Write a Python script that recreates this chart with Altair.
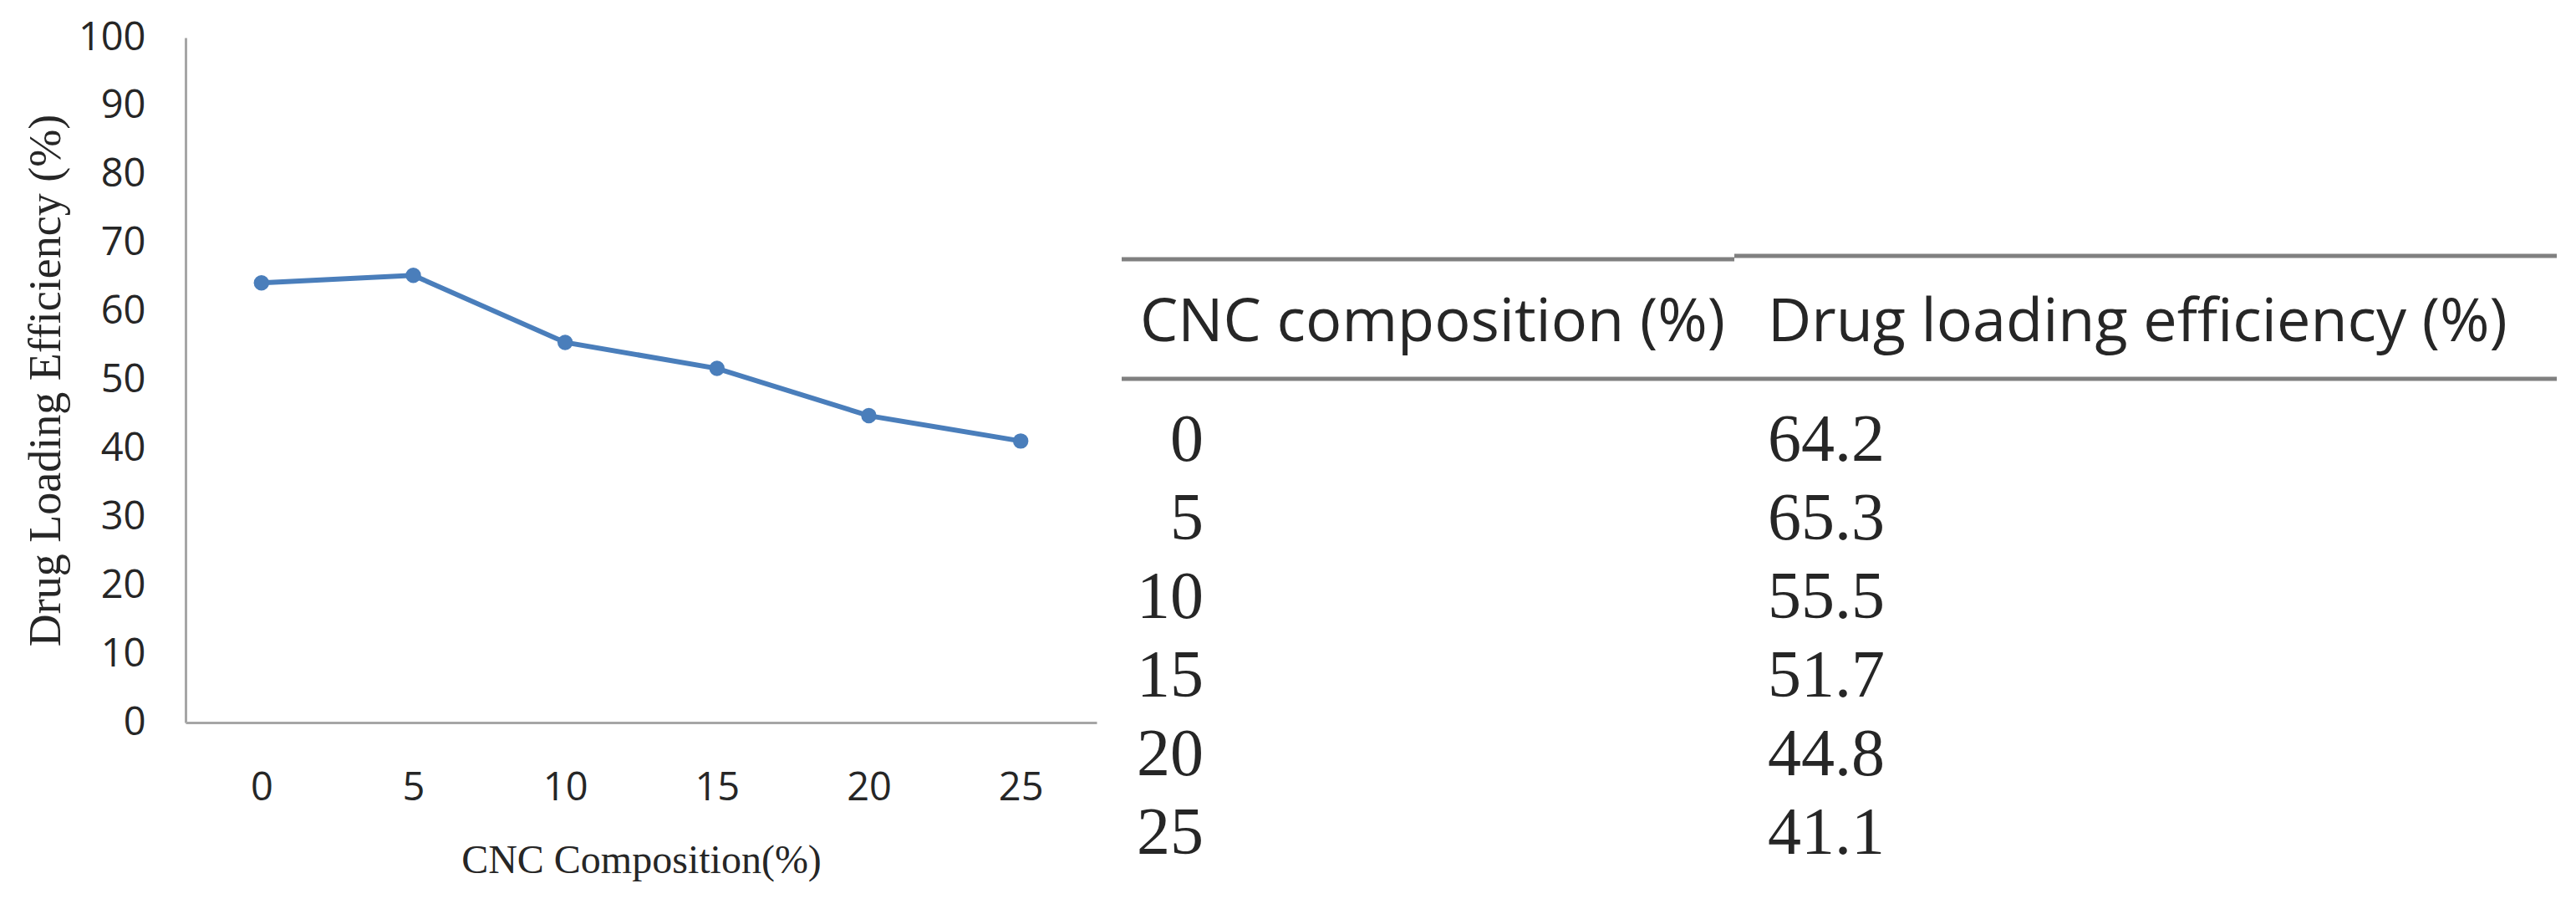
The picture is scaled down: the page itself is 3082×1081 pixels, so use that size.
import altair as alt
import pandas as pd

# ---------------- data ----------------
composition = ["0", "5", "10", "15", "20", "25"]
efficiency = [64.2, 65.3, 55.5, 51.7, 44.8, 41.1]
efficiency_text = ["64.2", "65.3", "55.5", "51.7", "44.8", "41.1"]
y_ticks = [0, 10, 20, 30, 40, 50, 60, 70, 80, 90, 100]
table_header = ["CNC composition (%)", "Drug loading efficiency (%)"]
x_title = "CNC Composition(%)"
y_title = "Drug Loading Efficiency (%)"

# ---------------- styles ----------------
BLUE = "#4a7ebb"
AXIS_GRAY = "#a6a6a6"
TEXT = "#262626"
SANS = "Open Sans, sans-serif"
SERIF = "Liberation Serif, Times New Roman, serif"

# ---------------- line chart ----------------
df = pd.DataFrame({"comp": composition, "eff": efficiency})

base = alt.Chart(df).encode(
    x=alt.X(
        "comp:N",
        sort=composition,
        axis=alt.Axis(
            title=x_title,
            labelAngle=0,
            ticks=False,
            domainColor=AXIS_GRAY,
            domainWidth=3,
            labelFont=SANS,
            labelFontSize=47,
            labelColor=TEXT,
            labelPadding=55,
            titleFont=SERIF,
            titleFontSize=48,
            titleFontWeight="normal",
            titleColor=TEXT,
            titlePadding=40,
        ),
    ),
    y=alt.Y(
        "eff:Q",
        scale=alt.Scale(domain=[0, 100]),
        axis=alt.Axis(
            title=y_title,
            values=y_ticks,
            grid=False,
            ticks=False,
            domainColor=AXIS_GRAY,
            domainWidth=3,
            labelFont=SANS,
            labelFontSize=47,
            labelColor=TEXT,
            labelPadding=48,
            titleFont=SERIF,
            titleFontSize=54,
            titleFontWeight="normal",
            titleColor=TEXT,
            titlePadding=11,
        ),
    ),
)

line = base.mark_line(color=BLUE, strokeWidth=6)
points = base.mark_point(filled=True, size=340, shape="circle", color=BLUE, opacity=1)
line_chart = (line + points).properties(width=1090, height=819)

# ---------------- table ----------------
TABLE_W = 1717
ROW_PX = 94.0
TOP_PX = 44.0          # table plot top, aligned with line-chart plot top
ROW1_PX = 526.0        # centre of first data row
y0 = 1 - (ROW1_PX - TOP_PX) / ROW_PX
TABLE_H = 1026
y1 = y0 + TABLE_H / ROW_PX

def frac(px):
    return (px - 1340.0) / TABLE_W

def rowpos(px):
    return 1 + (px - ROW1_PX) / ROW_PX

split = frac(2073)
rules_df = pd.DataFrame(
    {
        "x": [0.0, split, 0.0],
        "x2": [split, 1.0, 1.0],
        "y": [rowpos(309), rowpos(305), rowpos(452)],
    }
)
xs = alt.Scale(domain=[0, 1])
ys = alt.Scale(domain=[y0, y1], reverse=True)

rules = alt.Chart(rules_df).mark_rule(color="#808080", strokeWidth=5).encode(
    x=alt.X("x:Q", scale=xs, axis=None),
    x2="x2:Q",
    y=alt.Y("y:Q", scale=ys, axis=None),
)

hdr_df = pd.DataFrame(
    {"label": table_header, "x": [frac(1362), frac(2113)], "y": [rowpos(385)] * 2}
)
header = alt.Chart(hdr_df).mark_text(
    align="left", baseline="middle", font="Open Sans", fontSize=72, color=TEXT
).encode(
    x=alt.X("x:Q", scale=xs, axis=None),
    y=alt.Y("y:Q", scale=ys, axis=None),
    text="label:N",
)

rows_df = pd.DataFrame(
    {"row": list(range(1, len(composition) + 1)), "comp": composition, "eff": efficiency_text}
)
col1 = alt.Chart(rows_df).mark_text(
    align="right", baseline="middle", font=SERIF, fontSize=80, color=TEXT
).encode(
    x=alt.datum(frac(1438), scale=xs),
    y=alt.Y("row:Q", scale=ys, axis=None),
    text="comp:N",
)
col2 = alt.Chart(rows_df).mark_text(
    align="left", baseline="middle", font=SERIF, fontSize=80, color=TEXT
).encode(
    x=alt.datum(frac(2113), scale=xs),
    y=alt.Y("row:Q", scale=ys, axis=None),
    text="eff:N",
)

table = (rules + header + col1 + col2).properties(width=TABLE_W, height=TABLE_H)

chart = (
    alt.hconcat(line_chart, table, spacing=30, bounds="flush")
    .properties(
        padding={"left": 20, "top": 13, "right": 5, "bottom": 5},
        background="white",
    )
    .configure_view(strokeWidth=0)
)

chart.save("out.html", embed_options={"renderer": "svg", "actions": False})
